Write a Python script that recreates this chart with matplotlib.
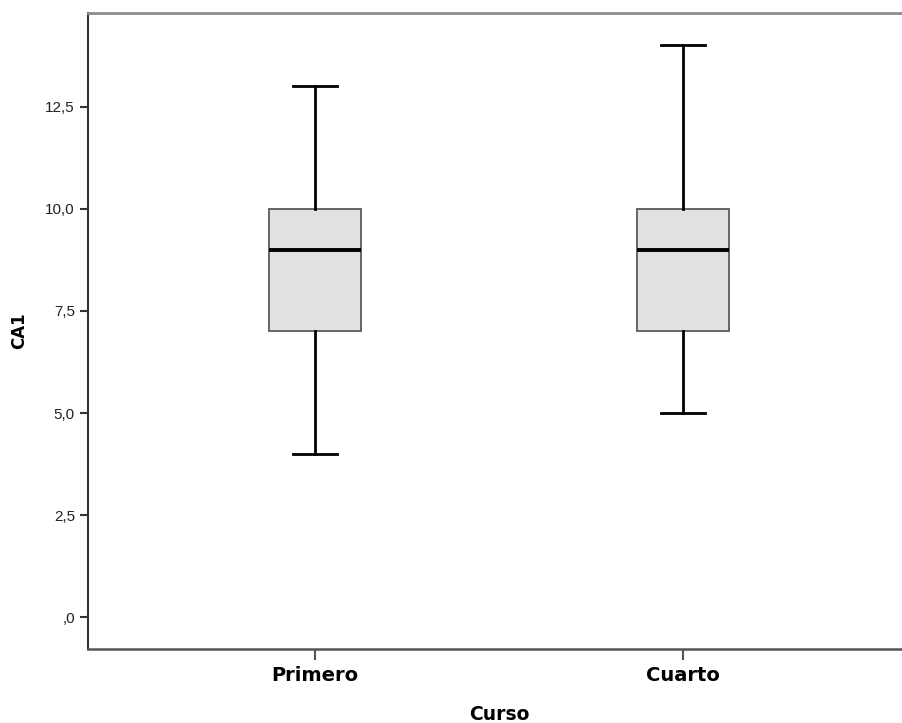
import matplotlib.pyplot as plt

# Resumen de CA1 por curso (mín, Q1, mediana, Q3, máx)
cursos = ["Primero", "Cuarto"]
minimos = [4, 5]
q1 = [7, 7]
medianas = [9, 9]
q3 = [10, 10]
maximos = [13, 14]

y_ticks = [0, 2.5, 5, 7.5, 10, 12.5]
y_tick_labels = [",0", "2,5", "5,0", "7,5", "10,0", "12,5"]

plt.rcParams["font.family"] = ["Liberation Sans", "DejaVu Sans"]

fig = plt.figure(figsize=(9.02, 7.23), dpi=100)
ax = fig.add_axes([88 / 902, 74 / 723, 822 / 902, 636 / 723])

stats = []
for i, curso in enumerate(cursos):
    stats.append({
        "label": curso,
        "whislo": minimos[i],
        "q1": q1[i],
        "med": medianas[i],
        "q3": q3[i],
        "whishi": maximos[i],
        "fliers": [],
    })

ax.bxp(
    stats,
    positions=[1, 2],
    widths=0.25,
    capwidths=0.12,
    patch_artist=True,
    showfliers=False,
    boxprops=dict(facecolor="#e1e1e1", edgecolor="#5a5a5a", linewidth=1.3),
    medianprops=dict(color="black", linewidth=2.8, solid_capstyle="butt"),
    whiskerprops=dict(color="black", linewidth=2),
    capprops=dict(color="black", linewidth=2),
)

ax.set_xlim(0.383, 2.617)
ax.set_ylim(-0.776, 14.79)
ax.set_yticks(y_ticks)
ax.set_yticklabels(y_tick_labels, fontsize=11, color="#222222")
ax.set_xticks([1, 2])
ax.set_xticklabels(cursos, fontsize=14, fontweight="bold", family="DejaVu Sans")

ax.tick_params(axis="y", length=5.8, width=1.5, color="#333333", pad=3.6)
ax.tick_params(axis="x", length=8, width=1.5, color="#555555", pad=4)

ax.set_ylabel("CA1", fontsize=12, fontweight="bold", family="DejaVu Sans")
ax.yaxis.set_label_coords(-0.073, 0.5)
ax.set_xlabel("Curso", fontsize=13.5, fontweight="bold", family="DejaVu Sans")
ax.xaxis.set_label_coords(0.5, -0.088)

ax.spines["right"].set_visible(False)
ax.spines["left"].set_color("#333333")
ax.spines["left"].set_linewidth(1.5)
ax.spines["bottom"].set_color("#555555")
ax.spines["bottom"].set_linewidth(1.8)
ax.spines["top"].set_color("#8c8c8c")
ax.spines["top"].set_linewidth(2)

fig.savefig("out.png", dpi=100)
